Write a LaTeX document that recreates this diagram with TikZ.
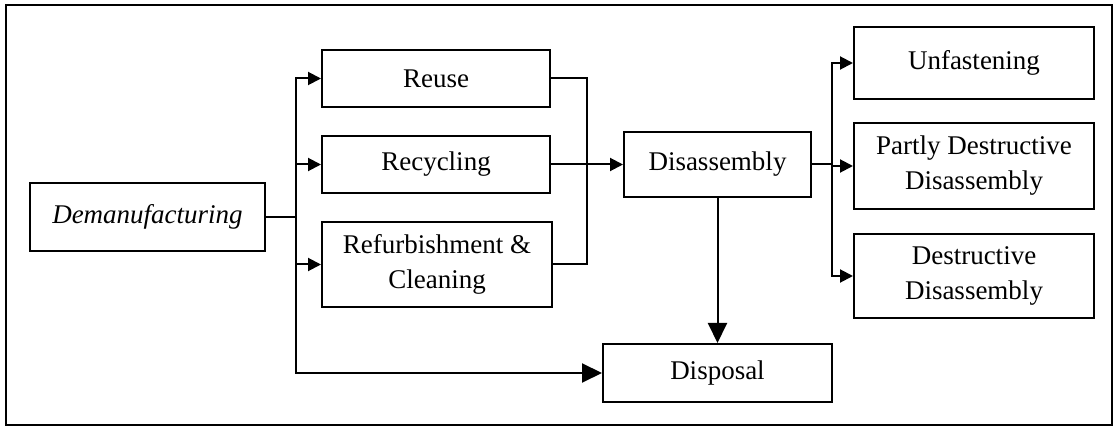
\documentclass[tikz,border=0pt]{standalone}
\usepackage{fontspec}
\setmainfont{Liberation Serif}
\usetikzlibrary{arrows.meta}
\begin{document}
\begin{tikzpicture}[x=0.5pt,y=-0.5pt,
  box/.style={draw,line width=1pt,minimum width=#1,inner sep=0pt,align=center,
    font=\fontsize{13.5}{17.5}\selectfont},
  wire/.style={line width=1pt},
  sm/.style={wire,-{Triangle[length=6.5pt,width=6.5pt]}},
  big/.style={wire,-{Triangle[length=10pt,width=9.5pt]}}]
  \useasboundingbox (0,0) rectangle (1116,427);
  \draw[line width=1pt] (6,5) rectangle (1112,425);

  % boxes
  \node[box=117.5pt,minimum height=34pt] (dem) at (147.5,217) {\itshape Demanufacturing};
  \node[box=114pt,minimum height=28.5pt] (reuse) at (436,78.5) {Reuse};
  \node[box=114pt,minimum height=28.5pt] (recyc) at (436,164.5) {Recycling};
  \node[box=115pt,minimum height=42.5pt] (refurb) at (437,264.5) {Refurbishment \&\\Cleaning};
  \node[box=93.5pt,minimum height=32.5pt] (disas) at (717.5,164.5) {Disassembly};
  \node[box=114.5pt,minimum height=29pt] (disp) at (717.5,373) {Disposal};
  \node[box=120pt,minimum height=36pt] (unf) at (974,63) {Unfastening};
  \node[box=120pt,minimum height=43pt] (pdd) at (974,166) {Partly Destructive\\Disassembly};
  \node[box=120pt,minimum height=42pt] (dd) at (974,276) {Destructive\\Disassembly};

  % junction points
  \coordinate (b) at (296,217);
  \coordinate (j) at (587,164.5);
  \coordinate (k) at (832,164.5);

  % demanufacturing options
  \draw[wire] (dem.east) -- (b);
  \draw[sm] (b) |- (reuse.west);
  \draw[sm] (b) |- (recyc.west);
  \draw[sm] (b) |- (refurb.west);
  \draw[big] (b) |- (disp.west);

  % to disassembly
  \draw[wire] (reuse.east) -| (j);
  \draw[wire] (refurb.east) -| (j);
  \draw[sm] (recyc.east) -- (disas.west);
  \draw[big] (disas.south) -- (disp.north);

  % disassembly modes
  \draw[wire] (disas.east) -- (k);
  \draw[sm] (k) |- (unf.west);
  \draw[sm] (k) |- (pdd.west);
  \draw[sm] (k) |- (dd.west);
\end{tikzpicture}
\end{document}
